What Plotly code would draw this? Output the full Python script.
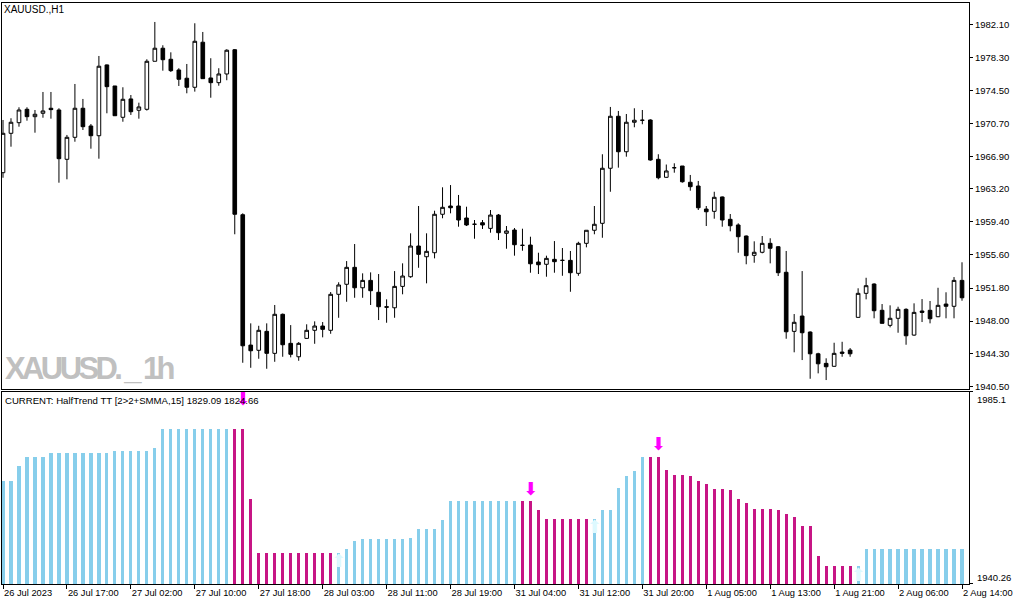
import plotly.graph_objects as go

# XAUUSD H1 candles, 26 Jul 2023 09:00 .. 2 Aug 2023 14:00 (one bar per position)
opens = [1965.06, 1969.59, 1970.81, 1972.35, 1971.50, 1971.89, 1972.47, 1972.27, 1966.60, 1969.13,
         1972.47, 1970.43, 1969.31, 1977.45, 1975.03, 1971.43, 1973.54, 1972.24, 1972.35, 1977.87,
         1979.37, 1978.10, 1976.87, 1975.92, 1974.88, 1980.06, 1975.95, 1975.41, 1976.41, 1979.20,
         1960.23, 1945.24, 1944.64, 1946.82, 1944.29, 1948.78, 1945.44, 1943.90, 1946.01, 1946.94,
         1947.43, 1946.94, 1951.08, 1952.23, 1954.18, 1951.83, 1952.68, 1951.31, 1949.65, 1949.53,
         1951.99, 1953.10, 1956.63, 1955.40, 1955.86, 1960.28, 1961.23, 1961.23, 1959.85, 1959.13,
         1959.31, 1958.66, 1960.19, 1958.09, 1958.47, 1956.71, 1956.74, 1954.79, 1954.53, 1955.10,
         1954.98, 1954.98, 1953.49, 1956.94, 1958.44, 1959.24, 1965.57, 1971.55, 1967.47, 1970.86,
         1971.09, 1971.12, 1966.60, 1964.53, 1965.63, 1965.83, 1963.96, 1963.53, 1960.88, 1960.62,
         1962.27, 1959.70, 1959.05, 1957.78, 1955.56, 1955.91, 1956.94, 1956.55, 1953.61, 1946.82,
         1948.58, 1946.74, 1944.24, 1943.14, 1942.80, 1944.44, 1944.67, 1948.43, 1951.19, 1952.26,
         1949.24, 1947.51, 1948.32, 1949.35, 1946.39, 1949.16, 1949.24, 1948.50, 1949.96, 1949.70,
         1952.68]
highs = [1971.12, 1971.32, 1972.58, 1972.58, 1972.27, 1974.34, 1974.34, 1972.47, 1969.40, 1975.26,
         1973.54, 1970.66, 1978.48, 1977.50, 1975.03, 1974.88, 1973.99, 1973.11, 1978.10, 1982.39,
         1979.71, 1978.90, 1977.07, 1977.56, 1982.24, 1981.24, 1978.22, 1977.07, 1979.25, 1979.28,
         1960.39, 1947.74, 1947.46, 1947.74, 1949.85, 1948.87, 1947.54, 1945.59, 1947.63, 1947.97,
         1947.89, 1951.34, 1952.46, 1954.90, 1956.86, 1953.49, 1953.60, 1953.41, 1950.50, 1953.75,
         1954.64, 1958.09, 1961.23, 1958.09, 1960.69, 1963.38, 1963.64, 1962.50, 1961.15, 1959.62,
         1959.62, 1960.77, 1960.31, 1958.93, 1958.70, 1958.62, 1957.70, 1955.86, 1955.52, 1957.20,
         1956.40, 1956.06, 1957.12, 1958.44, 1961.23, 1967.18, 1972.62, 1972.16, 1971.81, 1972.47,
         1972.27, 1971.20, 1967.18, 1966.00, 1966.14, 1965.83, 1964.80, 1964.11, 1961.23, 1962.87,
         1962.32, 1960.31, 1959.24, 1957.84, 1957.17, 1957.78, 1957.52, 1956.63, 1956.06, 1948.81,
         1953.75, 1946.82, 1944.36, 1943.72, 1945.51, 1945.62, 1944.90, 1951.77, 1952.98, 1952.34,
         1949.96, 1949.81, 1949.65, 1949.47, 1950.04, 1950.53, 1950.31, 1951.83, 1951.31, 1953.06,
         1954.76]
lows = [1964.48, 1968.05, 1970.35, 1971.04, 1969.66, 1971.38, 1971.27, 1963.91, 1964.30, 1968.62,
        1969.97, 1967.82, 1966.67, 1971.89, 1971.61, 1970.92, 1971.70, 1971.27, 1972.20, 1977.87,
        1976.79, 1976.64, 1975.03, 1974.19, 1974.38, 1975.87, 1973.68, 1975.06, 1975.69, 1957.98,
        1943.21, 1942.63, 1943.67, 1942.52, 1943.32, 1943.90, 1943.83, 1943.44, 1945.94, 1945.39,
        1946.13, 1946.54, 1948.38, 1950.22, 1950.68, 1950.68, 1949.85, 1948.12, 1947.81, 1948.38,
        1951.08, 1952.98, 1954.13, 1952.34, 1955.21, 1959.82, 1960.39, 1958.85, 1958.93, 1957.47,
        1958.59, 1958.16, 1957.32, 1956.32, 1955.52, 1956.09, 1953.56, 1953.41, 1953.10, 1953.56,
        1953.21, 1951.37, 1953.21, 1956.48, 1957.98, 1957.58, 1962.87, 1965.64, 1966.90, 1970.28,
        1970.63, 1966.44, 1964.30, 1964.48, 1965.06, 1963.91, 1962.99, 1960.77, 1958.93, 1959.77,
        1958.85, 1958.32, 1955.86, 1954.53, 1954.71, 1955.79, 1954.64, 1953.18, 1945.97, 1944.41,
        1943.52, 1941.37, 1941.99, 1941.22, 1942.77, 1943.90, 1943.90, 1948.41, 1950.50, 1948.32,
        1947.74, 1947.28, 1946.66, 1945.28, 1946.31, 1947.89, 1947.74, 1948.46, 1948.32, 1948.32,
        1950.34]
closes = [1969.59, 1970.86, 1972.27, 1971.50, 1971.78, 1972.16, 1972.31, 1966.67, 1969.13, 1972.47,
          1970.35, 1969.31, 1977.30, 1974.95, 1971.61, 1973.50, 1972.07, 1972.62, 1977.87, 1979.37,
          1978.05, 1976.79, 1975.80, 1974.88, 1980.17, 1975.87, 1975.41, 1976.41, 1979.14, 1960.28,
          1945.16, 1944.59, 1946.94, 1944.29, 1948.78, 1945.28, 1944.18, 1945.44, 1946.94, 1947.43,
          1947.05, 1951.08, 1952.15, 1954.18, 1951.83, 1952.68, 1951.49, 1949.65, 1949.60, 1951.99,
          1953.18, 1956.63, 1955.67, 1956.02, 1960.28, 1961.08, 1961.03, 1959.62, 1959.05, 1959.13,
          1959.05, 1960.19, 1958.16, 1958.36, 1956.78, 1956.71, 1954.59, 1954.48, 1955.21, 1954.83,
          1954.98, 1953.56, 1956.94, 1958.44, 1959.13, 1965.57, 1971.55, 1967.47, 1970.86, 1971.09,
          1971.09, 1966.52, 1964.48, 1965.26, 1965.63, 1964.02, 1963.45, 1961.03, 1960.57, 1962.23,
          1959.62, 1958.96, 1957.70, 1955.52, 1955.91, 1956.94, 1956.37, 1953.56, 1946.77, 1947.86,
          1946.66, 1944.24, 1943.09, 1942.75, 1944.29, 1944.29, 1944.24, 1951.19, 1952.07, 1949.19,
          1947.74, 1948.32, 1949.35, 1946.31, 1949.00, 1949.00, 1948.27, 1949.81, 1949.70, 1952.68,
          1950.68]

# HalfTrend line value per bar and its trend ("u" up / "d" down)
ht_values = [1964.42, 1964.42, 1967.90, 1969.99, 1969.99, 1969.99, 1970.92, 1970.92, 1970.92, 1970.92,
             1970.92, 1970.92, 1970.92, 1970.92, 1971.39, 1971.39, 1971.39, 1971.39, 1971.39, 1972.09,
             1976.50, 1976.50, 1976.50, 1976.50, 1976.50, 1976.50, 1976.50, 1976.50, 1976.50, 1976.50,
             1976.50, 1960.17, 1947.62, 1947.62, 1947.62, 1947.62, 1947.62, 1947.39, 1947.39, 1947.39,
             1947.39, 1947.39, 1947.39, 1948.39, 1950.25, 1950.71, 1950.71, 1950.71, 1950.71, 1950.71,
             1950.71, 1950.95, 1953.04, 1953.04, 1953.04, 1955.13, 1959.54, 1959.54, 1959.54, 1959.54,
             1959.54, 1959.54, 1959.54, 1959.54, 1959.54, 1959.54, 1959.54, 1957.45, 1955.52, 1955.52,
             1955.52, 1955.52, 1955.52, 1955.52, 1955.52, 1957.45, 1957.45, 1962.79, 1965.42, 1966.74,
             1969.99, 1969.99, 1969.99, 1966.97, 1965.81, 1965.81, 1965.58, 1964.42, 1963.72, 1962.56,
             1962.56, 1962.10, 1960.01, 1959.08, 1957.68, 1957.68, 1957.68, 1957.45, 1956.52, 1955.82,
             1953.73, 1953.73, 1946.76, 1944.44, 1944.44, 1944.44, 1944.44, 1944.44, 1948.39, 1948.39,
             1948.39, 1948.39, 1948.39, 1948.39, 1948.39, 1948.39, 1948.39, 1948.39, 1948.39, 1948.39,
             1948.39]
ht_trend = (["u"] * 29 + ["d"] * 13 + ["u"] * 23 + ["d"] * 9 + ["u"] * 7
            + ["d"] * 26 + ["u"] * 14)

# signal arrows (bar position, value)
sell_idx = [30, 66, 82]
sell_val = [1983.2, 1961.98, 1972.55]
buy_idx = [42, 74, 107]
buy_val = [1945.25, 1953.27, 1941.9]

time_ticks = [0, 8, 16, 24, 32, 40, 48, 56, 64, 72, 80, 88, 96, 104, 112, 120]
time_labels = ["26 Jul 2023", "26 Jul 17:00", "27 Jul 02:00", "27 Jul 10:00", "27 Jul 18:00",
               "28 Jul 03:00", "28 Jul 11:00", "28 Jul 19:00", "31 Jul 04:00", "31 Jul 12:00",
               "31 Jul 20:00", "1 Aug 05:00", "1 Aug 13:00", "1 Aug 21:00", "2 Aug 06:00",
               "2 Aug 14:00"]
price_ticks = [1982.10, 1978.30, 1974.50, 1970.70, 1966.90, 1963.20, 1959.40, 1955.60,
               1951.80, 1948.00, 1944.30, 1940.50]

pos = list(range(len(opens)))
up_col = "#87CEEB"
dn_col = "#C71585"
bar_cols = [up_col if t == "u" else dn_col for t in ht_trend]

FONT = "Liberation Sans, Arial, sans-serif"

fig = go.Figure()

fig.add_trace(go.Candlestick(
    x=pos, open=opens, high=highs, low=lows, close=closes,
    xaxis="x", yaxis="y", whiskerwidth=0, showlegend=False,
    increasing=dict(line=dict(color="black", width=1), fillcolor="white"),
    decreasing=dict(line=dict(color="black", width=1), fillcolor="black")))

fig.add_trace(go.Bar(x=pos, y=ht_values, marker_color=bar_cols, marker_line_width=0,
                     width=0.4, xaxis="x2", yaxis="y2", showlegend=False))

fig.add_trace(go.Scatter(x=sell_idx, y=sell_val, mode="text", text=["⬇"] * len(sell_idx),
                         textfont=dict(color="#FF00FF", size=18, family="DejaVu Sans"),
                         xaxis="x2", yaxis="y2", showlegend=False))
fig.add_trace(go.Scatter(x=buy_idx, y=buy_val, mode="text", text=["⬆"] * len(buy_idx),
                         textfont=dict(color="#DDF9FF", size=18, family="DejaVu Sans"),
                         xaxis="x2", yaxis="y2", showlegend=False))

xr = [-0.125, len(opens) - 0.125]
frame = dict(showline=True, mirror=True, linecolor="black", linewidth=1,
             showgrid=False, zeroline=False)

fig.update_layout(
    width=1015, height=605,
    margin=dict(l=2, r=46, t=3, b=21),
    paper_bgcolor="white", plot_bgcolor="white",
    font=dict(family=FONT, size=10, color="black"),
    bargap=0, boxgap=0.35,
    xaxis=dict(domain=[0, 1], range=xr, anchor="y", showticklabels=False,
               rangeslider=dict(visible=False), **frame),
    yaxis=dict(domain=[0.3356, 1], range=[1940.19, 1984.57], side="right",
               tickvals=price_ticks, ticktext=[f"{v:.2f}" for v in price_ticks],
               ticks="outside", ticklen=3, tickcolor="black",
               tickfont=dict(size=9.5), **frame),
    xaxis2=dict(domain=[0, 1], range=xr, anchor="y2", tickvals=time_ticks,
                ticktext=time_labels, ticks="outside", ticklen=4, tickcolor="black",
                ticklabelposition="outside right", tickfont=dict(size=9.3), **frame),
    yaxis2=dict(domain=[0, 0.3305], range=[1940.26, 1985.1], side="right",
                tickvals=[1940.26, 1985.1], ticktext=["", ""], ticks="outside",
                ticklen=3, tickcolor="black", **frame),
)

annots = [
    dict(text="XAUUSD.,H1", x=0.0, y=0.988, size=10, color="black", family=FONT),
    dict(text="CURRENT: HalfTrend TT [2>2+SMMA,15] 1829.09 1824.66", x=0.001, y=0.315,
         size=9.6, color="black", family=FONT),
    # watermark: squeezed bold text
    dict(text='<span style="letter-spacing:-3.6px"><b>XAUUSD. _ 1h</b></span>',
         x=0.001, y=0.371, size=31, color="#C0C0C0", family=FONT),
    dict(text="1985.1", x=1.0062, y=0.3184, size=9.5, color="black", family=FONT),
    dict(text="1940.26", x=1.0062, y=0.0108, size=9.5, color="black", family=FONT),
]
for a in annots:
    fig.add_annotation(text=a["text"], xref="paper", yref="paper", x=a["x"], y=a["y"],
                       xanchor="left", yanchor="middle", showarrow=False,
                       font=dict(size=a["size"], color=a["color"], family=a["family"]))

# drop the page's default body margin so the chart sits at the window's corner
fig.write_html("out.html", config={"displayModeBar": False},
               post_script="document.body.style.margin='0';")
